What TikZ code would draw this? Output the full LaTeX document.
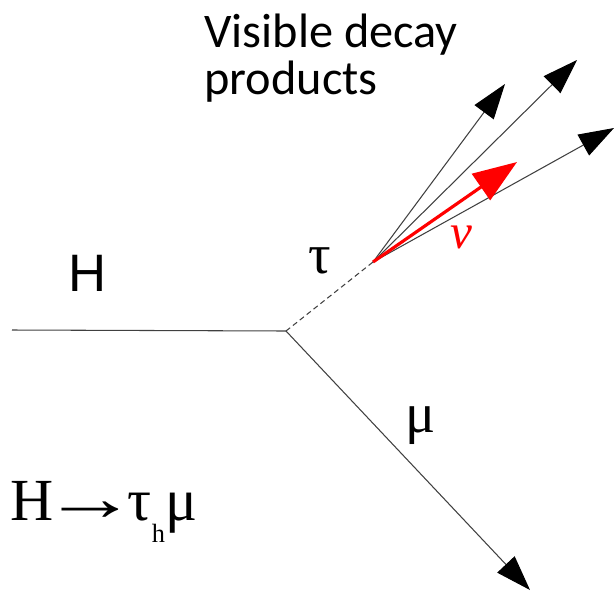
\documentclass[tikz,border=0pt]{standalone}
\usepackage{fontspec}
\setmainfont{Liberation Serif}
\newfontfamily\calib{Carlito}
\newfontfamily\arialf{Liberation Sans}
\usetikzlibrary{arrows.meta}
\tikzset{
  leg/.style={line width=0.6pt, black!75},
  prod/.style={leg, -{Triangle[length=20pt,width=13.5pt,fill=black,color=black]}},
  nuprod/.style={line width=1.8pt, red, -{Triangle[length=25pt,width=18pt]}},
  lbl/.style={inner sep=0pt}
}
\begin{document}
\begin{tikzpicture}[x=0.02cm, y=-0.02cm]
\useasboundingbox (0,0) rectangle (614,612);
% vertices
\coordinate (hin) at (12,330);
\coordinate (vtx) at (286,331);
\coordinate (dec) at (373,262);
\coordinate (p1) at (505,84);
\coordinate (p2) at (577,60);
\coordinate (p3) at (614,128);
\coordinate (pnu) at (517,162);
\coordinate (pmu) at (530,590);
% lines
\draw[leg] (hin) -- (vtx);
\draw[leg, dash pattern=on 3pt off 2pt] (vtx) -- (dec);
\draw[prod] (dec) -- (p1);
\draw[prod] (dec) -- (p2);
\draw[prod] (dec) -- (p3);
\draw[nuprod] (dec) -- (pnu);
\draw[prod] (vtx) -- (pmu);
% labels
\node[lbl, anchor=north west, align=left, font=\calib\fontsize{27.5}{26.5}\selectfont] (vis) at (204,14) {Visible decay\\products};
\node[lbl, font=\arialf\fontsize{30}{32}\selectfont] (hlab) at (88,273) {H};
\node[lbl, font=\fontsize{32}{34}\selectfont] (taulab) at (320,261) {τ};
\node[lbl, text=red, font=\fontsize{28}{30}\itshape] (nulab) at (461,237) {ν};
\node[lbl, font=\fontsize{32}{34}\selectfont] (mulab) at (421,426) {μ};
\node[lbl, anchor=base west, font=\fontsize{34}{36}\selectfont] (proc) at (10,520) {H\kern-6pt\scalebox{1.6}[1.1]{→}\kern-6ptτ\raisebox{-13pt}{\fontsize{15}{16}\selectfont h}μ};
\end{tikzpicture}
\end{document}
